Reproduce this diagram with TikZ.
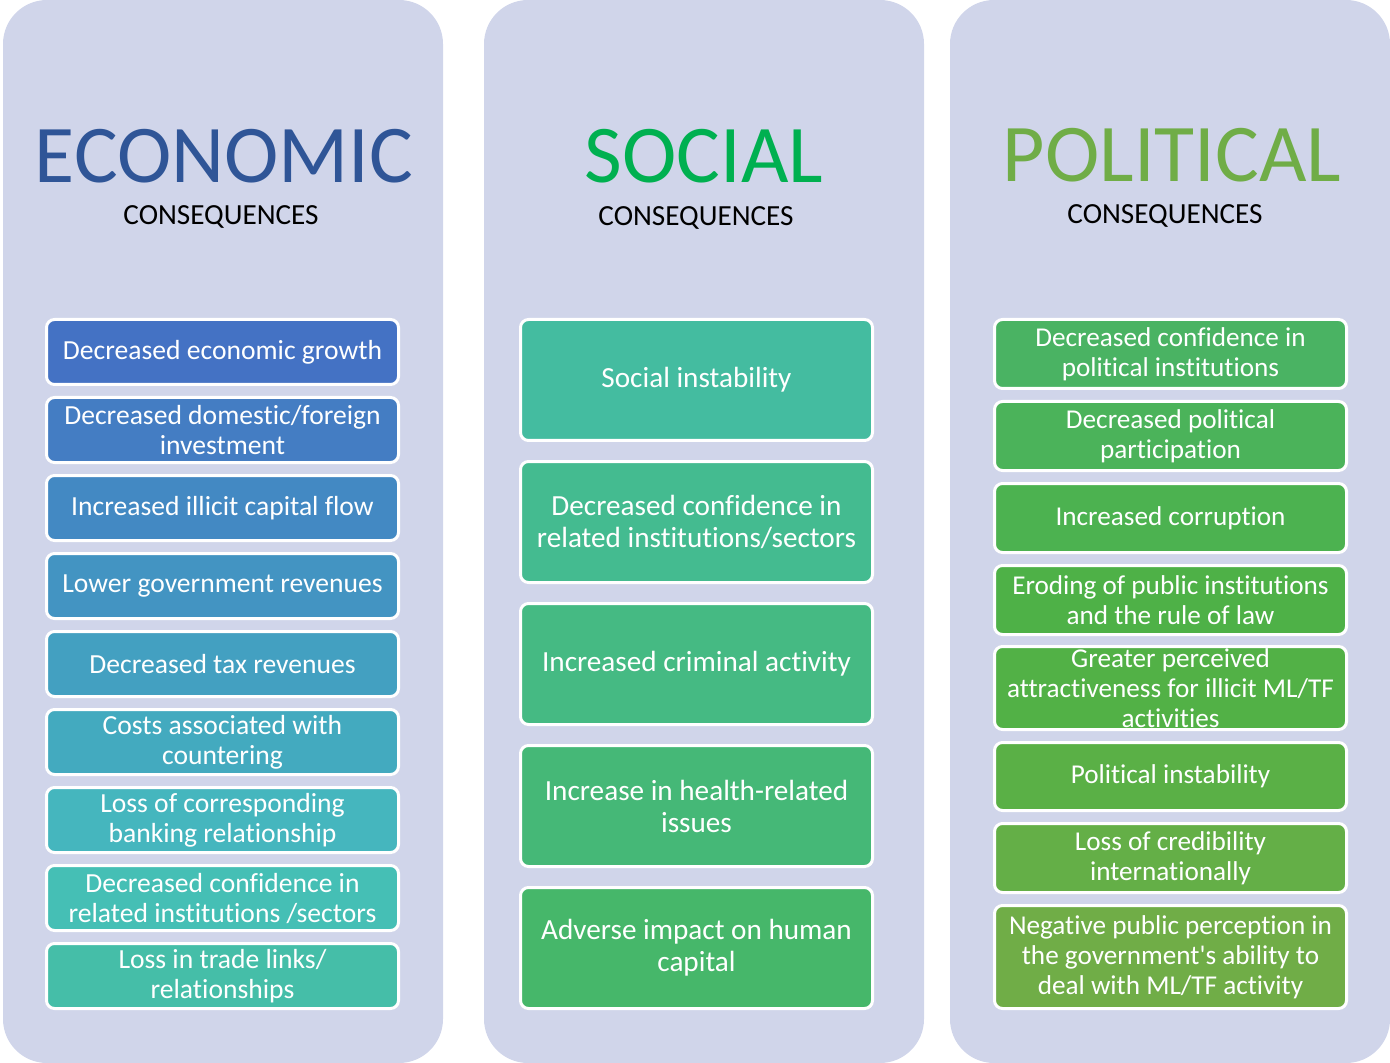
\documentclass[tikz,border=0pt]{standalone}
\usepackage{fontspec}
\setmainfont{Carlito}[Ligatures=NoCommon]
\usepackage{xcolor}
\definecolor{panelbg}{HTML}{D0D5EA}
\definecolor{econtitle}{HTML}{2F5597}
\definecolor{soctitle}{HTML}{00B050}
\definecolor{poltitle}{HTML}{70AD47}
% box fills, left column
\definecolor{eA}{HTML}{4472C4}
\definecolor{eB}{HTML}{447DC3}
\definecolor{eC}{HTML}{4389C3}
\definecolor{eD}{HTML}{4394C2}
\definecolor{eE}{HTML}{43A0C1}
\definecolor{eF}{HTML}{43AABF}
\definecolor{eG}{HTML}{45B6BE}
\definecolor{eH}{HTML}{45BFB5}
\definecolor{eI}{HTML}{45BEA8}
% box fills, middle column
\definecolor{sA}{HTML}{44BCA0}
\definecolor{sB}{HTML}{44BB90}
\definecolor{sC}{HTML}{45BA83}
\definecolor{sD}{HTML}{45B877}
\definecolor{sE}{HTML}{46B76A}
% box fills, right column
\definecolor{pA}{HTML}{4AB363}
\definecolor{pB}{HTML}{4BB35A}
\definecolor{pC}{HTML}{4CB250}
\definecolor{pD}{HTML}{4EB147}
\definecolor{pE}{HTML}{52B146}
\definecolor{pF}{HTML}{5AB046}
\definecolor{pG}{HTML}{64AF47}
\definecolor{pH}{HTML}{70AD47}
\tikzset{
	panel/.style={fill=panelbg, rounded corners=22pt},
	heading/.style={anchor=base, inner sep=0pt, font=\fontsize{41}{41}\selectfont},
	subheading/.style={anchor=base, inner sep=0pt, text=black, font=\fontsize{14.6}{15}\selectfont},
	item/.style={draw=white, line width=1.5pt, rounded corners=4pt, text=white,
			align=center, inner sep=0pt, minimum width=176pt},
	ecobox/.style={item, minimum height=32.5pt, font=\fontsize{13.8}{15}\selectfont},
	socbox/.style={item, minimum height=60.5pt, font=\fontsize{14.6}{16}\selectfont},
	polbox/.style={item, font=\fontsize{13.6}{15}\selectfont}
}

\begin{document}
\begin{tikzpicture}[x=0.5pt, y=-0.5pt]
		\useasboundingbox (0,0) rectangle (1390,1063);
		% three panels
		\fill[panel] (3,0) rectangle (443,1063);
		\fill[panel] (484,0) rectangle (924,1063);
		\fill[panel] (950,0) rectangle (1390,1063);
		
		\node[heading, text=econtitle] (econ) at (224,183) {ECONOMIC};
		\node[subheading] (econsub) at (221,225) {CONSEQUENCES};
		\node[heading, text=soctitle] (soc) at (704,183) {SOCIAL};
		\node[subheading] (socsub) at (696,226) {CONSEQUENCES};
		\node[heading, text=poltitle] (pol) at (1172,182) {POLITICAL};
		\node[subheading] (polsub) at (1165,224) {CONSEQUENCES};
		
		% economic
		\node[ecobox, fill=eA] (e1) at (222.5,352) {Decreased economic growth};
		\node[ecobox, fill=eB] (e2) at (222.5,430) {Decreased domestic/foreign\\investment};
		\node[ecobox, fill=eC] (e3) at (222.5,508) {Increased illicit capital flow};
		\node[ecobox, fill=eD] (e4) at (222.5,586) {Lower government revenues};
		\node[ecobox, fill=eE] (e5) at (222.5,664) {Decreased tax revenues};
		\node[ecobox, fill=eF] (e6) at (222.5,742) {Costs associated with\\countering};
		\node[ecobox, fill=eG] (e7) at (222.5,820) {Loss of corresponding\\banking relationship};
		\node[ecobox, fill=eH] (e8) at (222.5,898) {Decreased confidence in\\related institutions /sectors};
		\node[ecobox, fill=eI] (e9) at (222.5,976) {Loss in trade links/\\relationships};
		
		% social
		\node[socbox, fill=sA] (s1) at (696.5,380) {Social instability};
		\node[socbox, fill=sB] (s2) at (696.5,522) {Decreased confidence in\\related institutions/sectors};
		\node[socbox, fill=sC] (s3) at (696.5,664) {Increased criminal activity};
		\node[socbox, fill=sD] (s4) at (696.5,806) {Increase in health-related\\issues};
		\node[socbox, fill=sE] (s5) at (696.5,948) {Adverse impact on human\\capital};
		
		% political
		\node[polbox, fill=pA, minimum height=34.5pt] (p1) at (1170.5,354) {Decreased confidence in\\political institutions};
		\node[polbox, fill=pB, minimum height=34.5pt] (p2) at (1170.5,436) {Decreased political\\participation};
		\node[polbox, fill=pC, minimum height=34.5pt] (p3) at (1170.5,518) {Increased corruption};
		\node[polbox, fill=pD, minimum height=34.5pt] (p4) at (1170.5,600) {Eroding of public institutions\\and the rule of law};
		\node[polbox, fill=pE, minimum height=41.5pt] (p5) at (1170.5,688) {Greater perceived\\attractiveness for illicit ML/TF\\activities};
		\node[polbox, fill=pF, minimum height=34pt] (p6) at (1170.5,776.5) {Political instability};
		\node[polbox, fill=pG, minimum height=34.5pt] (p7) at (1170.5,858) {Loss of credibility\\internationally};
		\node[polbox, fill=pH, minimum height=51.5pt] (p8) at (1170.5,957) {Negative public perception in\\the government\textquotesingle s ability to\\deal with ML/TF activity};
	\end{tikzpicture}
\end{document}
